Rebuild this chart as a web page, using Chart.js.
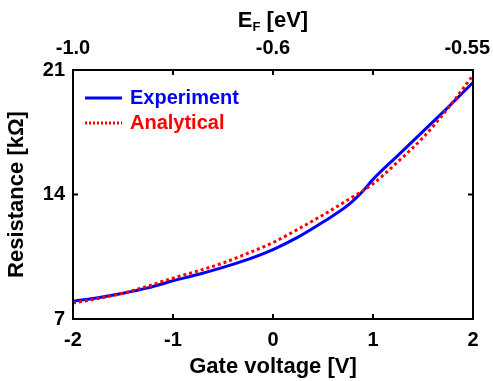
<!DOCTYPE html>
<html>
<head>
<meta charset="utf-8">
<script src="https://cdn.jsdelivr.net/npm/chart.js@4.4.0/dist/chart.umd.min.js"></script>
<style>
  html, body { margin: 0; padding: 0; background: #fff; }
  #wrap { width: 493px; height: 381px; }
</style>
</head>
<body>
<div id="wrap"><canvas id="chart" width="493" height="381"></canvas></div>
<script>
// measured gate sweep (blue) and analytical model (red dotted)
const expVoltage = [-2, -1.75, -1.5, -1.25, -1, -0.75, -0.5, -0.25, 0, 0.25, 0.5, 0.75, 0.9, 1, 1.25, 1.5, 1.75, 2];
const expResistance = [8.0, 8.2, 8.45, 8.75, 9.15, 9.5, 9.9, 10.35, 10.9, 11.6, 12.45, 13.4, 14.2, 14.85, 16.2, 17.55, 18.9, 20.3];

const anaVoltage = [-2, -1.75, -1.5, -1.25, -1, -0.75, -0.5, -0.25, 0, 0.25, 0.5, 0.75, 1, 1.25, 1.5, 1.75, 2];
const anaResistance = [7.9, 8.15, 8.45, 8.85, 9.3, 9.7, 10.15, 10.7, 11.3, 12.05, 12.85, 13.7, 14.6, 15.85, 17.2, 18.85, 20.7];

// axis ticks
const gateTicks = [-2, -1, 0, 1, 2];
const resistanceTicks = [7, 14, 21];
// Fermi level labels on the top axis, one per gate tick ('' = no label)
const fermiLabels = ['-1.0', '', '-0.6', '', '-0.55'];

const FONT = '"Liberation Sans", Arial, sans-serif';

const toPoints = (xs, ys) => xs.map((v, i) => ({ x: v, y: ys[i] }));

// boxed axes with inward ticks, labels, titles and legend
const framePlugin = {
    id: 'frame',
    afterDatasetsDraw(chart) {
        const { ctx, chartArea: a, scales: { x, y } } = chart;
        ctx.save();
        ctx.strokeStyle = '#000';
        ctx.lineWidth = 2;
        ctx.strokeRect(a.left, a.top, a.right - a.left, a.bottom - a.top);

        ctx.beginPath();
        gateTicks.forEach(v => {
            const px = x.getPixelForValue(v);
            ctx.moveTo(px, a.bottom); ctx.lineTo(px, a.bottom - 5);
            ctx.moveTo(px, a.top); ctx.lineTo(px, a.top + 5);
        });
        resistanceTicks.forEach(v => {
            const py = y.getPixelForValue(v);
            ctx.moveTo(a.left, py); ctx.lineTo(a.left + 5, py);
            ctx.moveTo(a.right, py); ctx.lineTo(a.right - 5, py);
        });
        ctx.stroke();

        ctx.fillStyle = '#000';
        ctx.font = 'bold 20px ' + FONT;
        ctx.textBaseline = 'middle';

        // bottom tick labels
        ctx.textAlign = 'center';
        gateTicks.forEach(v => ctx.fillText(String(v), x.getPixelForValue(v), a.bottom + 21));

        // top tick labels, kept inside the canvas
        fermiLabels.forEach((lbl, i) => {
            if (!lbl) return;
            const w = ctx.measureText(lbl).width;
            let cx = x.getPixelForValue(gateTicks[i]);
            cx = Math.min(cx, chart.width - 3 - w / 2);
            ctx.fillText(lbl, cx, a.top - 22);
        });

        // left tick labels
        ctx.textAlign = 'right';
        resistanceTicks.forEach(v => ctx.fillText(String(v), a.left - 8, y.getPixelForValue(v)));

        // axis titles
        ctx.font = 'bold 22px ' + FONT;
        ctx.textAlign = 'center';
        ctx.fillText('Gate voltage [V]', (a.left + a.right) / 2, a.bottom + 48);

        ctx.save();
        ctx.translate(17, (a.top + a.bottom) / 2);
        ctx.rotate(-Math.PI / 2);
        ctx.fillText('Resistance [kΩ]', 0, 0);
        ctx.restore();

        // E_F [eV] with subscript
        const cx = (a.left + a.right) / 2;
        const ty = 21;
        ctx.font = 'bold 22px ' + FONT;
        const wE = ctx.measureText('E').width;
        const wRest = ctx.measureText(' [eV]').width;
        ctx.font = 'bold 13px ' + FONT;
        const wF = ctx.measureText('F').width;
        const sx = cx - (wE + wF + wRest) / 2;
        ctx.textAlign = 'left';
        ctx.font = 'bold 22px ' + FONT;
        ctx.fillText('E', sx, ty);
        ctx.font = 'bold 13px ' + FONT;
        ctx.fillText('F', sx + wE, ty + 6);
        ctx.font = 'bold 22px ' + FONT;
        ctx.fillText(' [eV]', sx + wE + wF, ty);

        // legend
        const lx = a.left + 12, ly = a.top + 28;
        ctx.lineWidth = 3;
        ctx.strokeStyle = '#0000ff';
        ctx.beginPath(); ctx.moveTo(lx, ly); ctx.lineTo(lx + 37, ly); ctx.stroke();
        ctx.strokeStyle = '#ff0000';
        ctx.setLineDash([2, 2]);
        ctx.beginPath(); ctx.moveTo(lx, ly + 25); ctx.lineTo(lx + 37, ly + 25); ctx.stroke();
        ctx.setLineDash([]);
        ctx.font = 'bold 20px ' + FONT;
        ctx.fillStyle = '#0000ff';
        ctx.fillText('Experiment', lx + 45, ly);
        ctx.fillStyle = '#ff0000';
        ctx.fillText('Analytical', lx + 45, ly + 25);
        ctx.restore();
    }
};

new Chart(document.getElementById('chart'), {
    type: 'line',
    data: {
        datasets: [
            {
                label: 'Experiment',
                data: toPoints(expVoltage, expResistance),
                borderColor: '#0000ff',
                borderWidth: 3,
                pointRadius: 0,
                cubicInterpolationMode: 'monotone',
                order: 1
            },
            {
                label: 'Analytical',
                data: toPoints(anaVoltage, anaResistance),
                borderColor: '#ff0000',
                borderWidth: 3,
                borderDash: [3, 3],
                pointRadius: 0,
                cubicInterpolationMode: 'monotone',
                order: 0
            }
        ]
    },
    options: {
        responsive: false,
        animation: false,
        layout: { padding: { left: 73, right: 20, top: 70, bottom: 62 } },
        scales: {
            x: { type: 'linear', min: -2, max: 2, display: false },
            y: { type: 'linear', min: 7, max: 21, display: false }
        },
        plugins: {
            legend: { display: false },
            tooltip: { enabled: false }
        }
    },
    plugins: [framePlugin]
});
</script>
</body>
</html>
